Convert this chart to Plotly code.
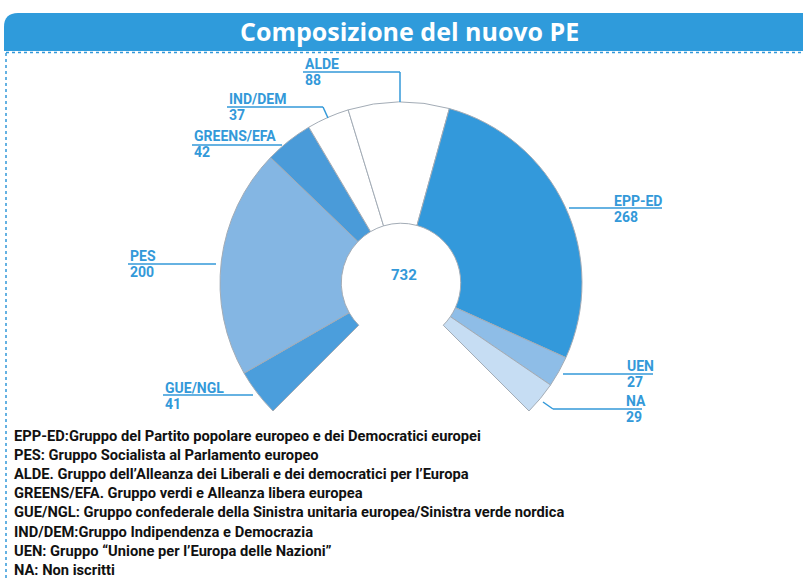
import plotly.graph_objects as go

W, H = 803, 580

# ---- data ----
groups = ["GUE/NGL", "PES", "GREENS/EFA", "IND/DEM", "ALDE", "EPP-ED", "UEN", "NA"]
seats = [41, 200, 42, 37, 88, 268, 27, 29]
total_seats = 732
title_text = "Composizione del nuovo PE"
notes = [
    "EPP-ED:Gruppo del Partito popolare europeo e dei Democratici europei",
    "PES: Gruppo Socialista al Parlamento europeo",
    "ALDE. Gruppo dell\u2019Alleanza dei Liberali e dei democratici per l\u2019Europa",
    "GREENS/EFA. Gruppo verdi e Alleanza libera europea",
    "GUE/NGL: Gruppo confederale della Sinistra unitaria europea/Sinistra verde nordica",
    "IND/DEM:Gruppo Indipendenza e Democrazia",
    "UEN: Gruppo \u201cUnione per l\u2019Europa delle Nazioni\u201d",
    "NA: Non iscritti",
]

# ---- styling ----
colors = ["#4b9edc", "#84b6e3", "#4a9bd9", "#ffffff", "#ffffff", "#3399db", "#8ebde7", "#c6ddf3"]
BLUE = "#3399d9"
FONT = "Roboto"

def px(x):
    return x / W

def py(y):
    return 1 - y / H

# gap of 90 degrees at the bottom (the chart spans 270 degrees)
gap = sum(seats) / 3.0
values = seats + [gap]
labels = groups + [""]
pie_colors = colors + ["rgba(0,0,0,0)"]
line_widths = [1] * len(seats) + [0]
line_colors = ["#a3acb6"] * len(seats) + ["rgba(0,0,0,0)"]

cx, cy, R = 401, 283, 181
fig = go.Figure(go.Pie(
    values=values, labels=labels, sort=False, direction="clockwise",
    rotation=225, hole=0.33, textinfo="none", hoverinfo="skip",
    marker=dict(colors=pie_colors, line=dict(color=line_colors, width=line_widths)),
    domain=dict(x=[px(cx - R), px(cx + R)], y=[py(cy + R), py(cy - R)]),
    showlegend=False,
))

shapes = []
annotations = []

# banner
x0, y0, x1, y1, r = 4, 13, 810, 51, 14
path = (f"M {px(x0)},{py(y1)} L {px(x0)},{py(y0 + r)} "
        f"Q {px(x0)},{py(y0)} {px(x0 + r)},{py(y0)} L {px(x1)},{py(y0)} "
        f"L {px(x1)},{py(y1)} Z")
shapes.append(dict(type="path", xref="paper", yref="paper", path=path,
                   fillcolor="#2f9bdb", line=dict(width=0), layer="below"))
annotations.append(dict(text=f"<b>{title_text}</b>", x=px(409), y=py(31), xref="paper", yref="paper",
                        showarrow=False, xanchor="center", yanchor="middle",
                        font=dict(family="Open Sans", size=25, color="white")))

# dotted frame
shapes.append(dict(type="line", xref="paper", yref="paper", x0=px(6), x1=px(803), y0=py(52.5), y1=py(52.5),
                   line=dict(color=BLUE, width=1.5, dash="dot")))
shapes.append(dict(type="line", xref="paper", yref="paper", x0=px(6), x1=px(6), y0=py(53), y1=py(580),
                   line=dict(color=BLUE, width=1.5, dash="dot")))

# label layout: (name-left-x, name-center-y, leader polyline)
label_layout = {
    "ALDE": (303, 64, [(303, 72), (400, 72), (400, 102)]),
    "IND/DEM": (227, 99, [(227, 107), (323, 107), (328, 118)]),
    "GREENS/EFA": (192, 136, [(192, 145), (282, 145)]),
    "EPP-ED": (612, 201, [(569, 208), (662, 208)]),
    "PES": (128, 256, [(128, 264), (216, 264)]),
    "GUE/NGL": (163, 388, [(163, 395), (253, 395)]),
    "UEN": (625, 366, [(563, 374), (653, 374)]),
    "NA": (624, 401, [(543, 402), (553, 409), (642, 409)]),
}

for g, v in zip(groups, seats):
    lx, ly, pts = label_layout[g]
    annotations.append(dict(text=f"<b>{g}</b>", x=px(lx), y=py(ly), xref="paper", yref="paper",
                            showarrow=False, xanchor="left", yanchor="middle",
                            font=dict(family=FONT, size=14, color=BLUE)))
    annotations.append(dict(text=f"<b>{v}</b>", x=px(lx), y=py(ly + 16), xref="paper", yref="paper",
                            showarrow=False, xanchor="left", yanchor="middle",
                            font=dict(family=FONT, size=14, color=BLUE)))
    for (ax, ay), (bx, by) in zip(pts[:-1], pts[1:]):
        shapes.append(dict(type="line", xref="paper", yref="paper", x0=px(ax), y0=py(ay),
                           x1=px(bx), y1=py(by), line=dict(color=BLUE, width=1.5)))

# total in the centre
annotations.append(dict(text=f"<b>{total_seats}</b>", x=px(403.5), y=py(275), xref="paper", yref="paper",
                        showarrow=False, xanchor="center", yanchor="middle",
                        font=dict(family=FONT, size=15, color=BLUE)))

# footnotes
for i, t in enumerate(notes):
    annotations.append(dict(text=f"<b>{t}</b>", x=px(12), y=py(436 + i * 19.1), xref="paper", yref="paper",
                            showarrow=False, xanchor="left", yanchor="middle",
                            font=dict(family=FONT, size=14.7, color="#111111")))

fig.update_layout(
    width=W, height=H, margin=dict(l=0, r=0, t=0, b=0),
    paper_bgcolor="white", plot_bgcolor="white",
    shapes=shapes, annotations=annotations,
)

fig.write_html("out.html", config={"displayModeBar": False},
               post_script="document.body.style.margin='0';")
